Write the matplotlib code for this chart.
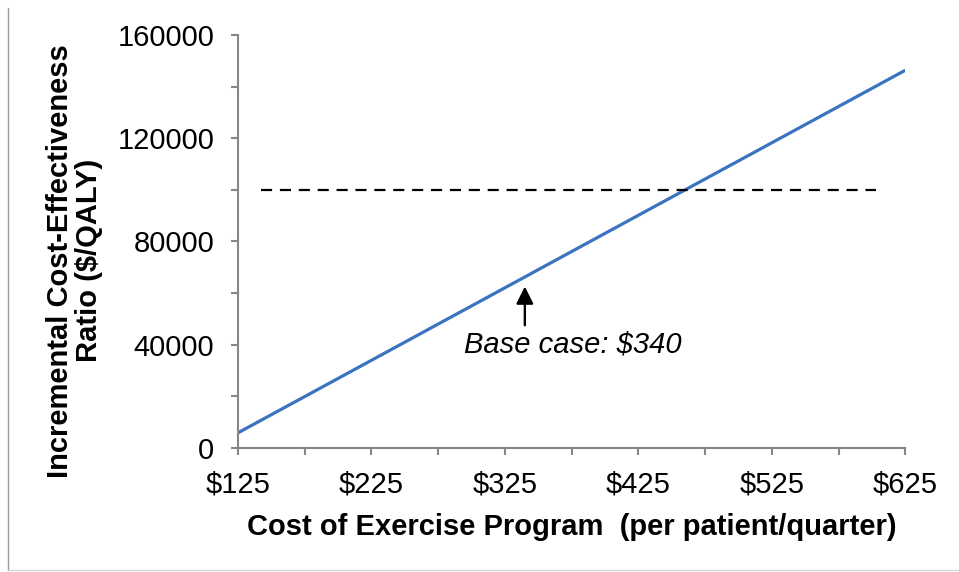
import matplotlib.pyplot as plt
from matplotlib.lines import Line2D

plt.rcParams['font.family'] = ['Liberation Sans', 'DejaVu Sans']

# data
cost = [125, 625]
icer = [5800, 146300]
threshold_x = [142, 603]
threshold_y = [100000, 100000]
base_case = 340
base_icer = 62500
xticks = [125, 225, 325, 425, 525, 625]
xlabels = ['$125', '$225', '$325', '$425', '$525', '$625']
yticks = [0, 40000, 80000, 120000, 160000]

fig = plt.figure(figsize=(9.59, 5.72), dpi=100)
ax = fig.add_axes([0.248, 0.217, 0.696, 0.722])

ax.plot(cost, icer, color='#3a73c0', lw=2.3, solid_capstyle='butt')
ax.plot(threshold_x, threshold_y, color='black', lw=1.6, dashes=(5, 3.5))

ax.annotate('', xy=(base_case, base_icer), xytext=(base_case, 47500),
            arrowprops=dict(arrowstyle='-|>', color='black', lw=1.7,
                            mutation_scale=26, shrinkA=0, shrinkB=0))
ax.text(base_case + 36, 40000, 'Base case: $340', style='italic',
        fontsize=21, ha='center', va='center')

ax.set_xlim(125, 625)
ax.set_ylim(0, 160000)
ax.set_xticks(xticks)
ax.set_xticklabels(xlabels)
ax.set_xticks(range(175, 626, 100), minor=True)
ax.set_yticks(yticks)
ax.set_yticklabels([str(v) for v in yticks])
ax.set_yticks(range(20000, 160001, 40000), minor=True)

for s in ['top', 'right']:
    ax.spines[s].set_visible(False)
for s in ['left', 'bottom']:
    ax.spines[s].set_color('#868686')
    ax.spines[s].set_linewidth(1.5)
ax.tick_params(which='both', direction='out', color='#868686', width=1.5, length=5)
ax.tick_params(axis='both', labelsize=21)
ax.tick_params(axis='y', pad=12)
ax.tick_params(axis='x', pad=11)

ax.set_xlabel('Cost of Exercise Program  (per patient/quarter)',
              fontsize=21, fontweight='bold', labelpad=11)
ax.set_ylabel('Incremental Cost-Effectiveness\nRatio ($/QALY)',
              fontsize=21, fontweight='bold', linespacing=1.05)
ax.yaxis.set_label_coords(-0.202, 0.453)

# thin frame lines at the left and bottom edges of the image
fig.add_artist(Line2D([0.0085, 0.0085], [0.003, 0.986], color='#9a9a9a', lw=1))
fig.add_artist(Line2D([0.0085, 1.0], [0.003, 0.003], color='#d8d8d8', lw=1))

fig.savefig('out.png', dpi=100)
